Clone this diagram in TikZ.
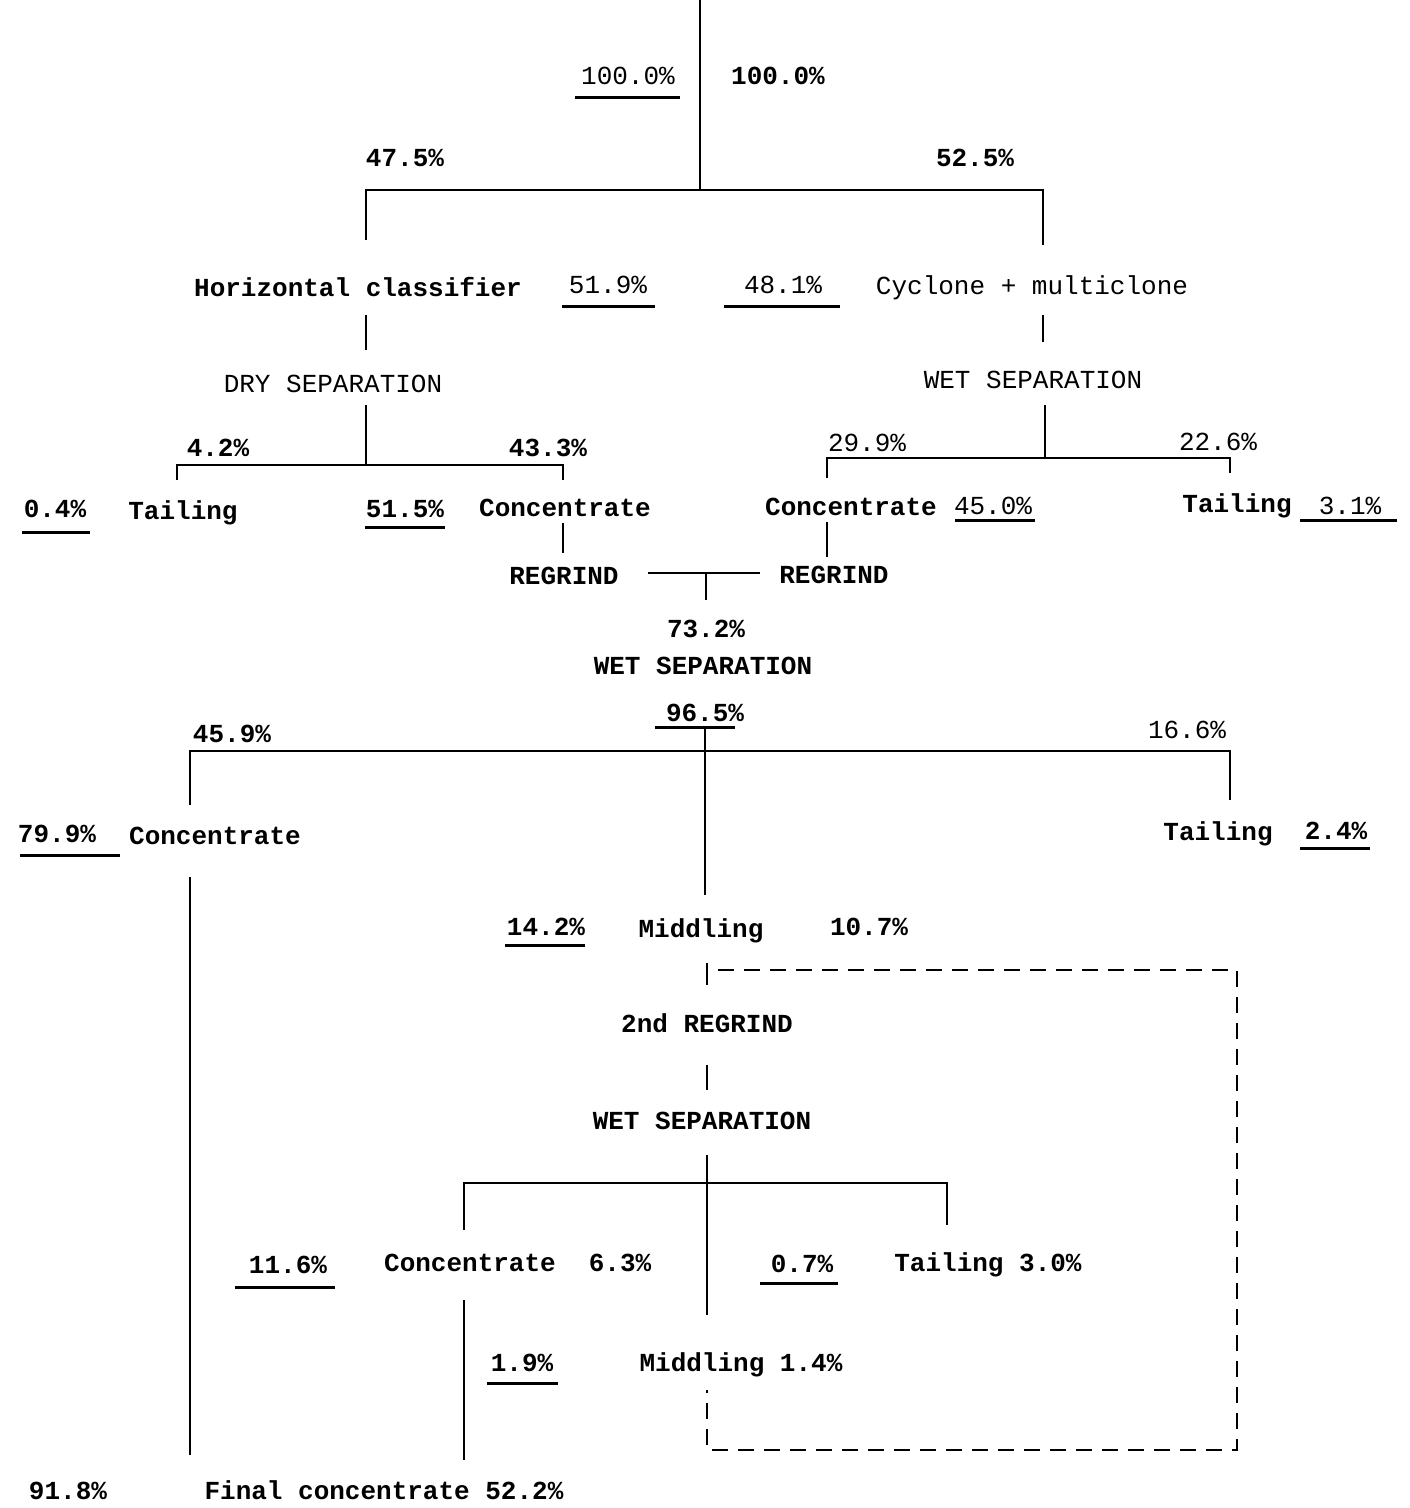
\documentclass[tikz,border=0pt]{standalone}
\usepackage{fontspec}
\setmonofont{Liberation Mono}
\begin{document}
\begin{tikzpicture}[x=1pt,y=-1pt,
  txt/.style={font=\ttfamily\bfseries\fontsize{26}{30}\selectfont, inner sep=0pt, anchor=base},
  ltxt/.style={font=\ttfamily\fontsize{26}{30}\selectfont, inner sep=0pt, anchor=base},
  flow/.style={line width=2.8pt},
  uline/.style={line width=3pt},
  recycle/.style={line width=2.6pt, dash pattern=on 16pt off 10pt}]
\useasboundingbox[fill=white] (0,0) rectangle (1409,1508);
% ---- text nodes ----
\node[ltxt] (p100a) at (628,84) {100.0\%};
\node[txt]  (p100b) at (778,84) {100.0\%};
\node[txt]  (p475) at (405,166) {47.5\%};
\node[txt]  (p525) at (975,166) {52.5\%};
\node[txt]  (hc) at (358,296) {Horizontal classifier};
\node[ltxt] (p519) at (608,293) {51.9\%};
\node[ltxt] (p481) at (783,293) {48.1\%};
\node[ltxt] (cyc) at (1032,294) {Cyclone + multiclone};
\node[ltxt] (dry) at (333,392) {DRY SEPARATION};
\node[ltxt] (wet1) at (1033,388) {WET SEPARATION};
\node[txt]  (p42) at (218,456) {4.2\%};
\node[txt]  (p433) at (548,456) {43.3\%};
\node[txt]  (p04) at (55,517) {0.4\%};
\node[txt]  (tail1) at (183,519) {Tailing};
\node[txt]  (p515) at (405,517) {51.5\%};
\node[txt]  (conc1) at (565,516) {Concentrate};
\node[ltxt] (p299) at (867,451) {29.9\%};
\node[ltxt] (p226) at (1218,450) {22.6\%};
\node[txt]  (conc2) at (851,515) {Concentrate};
\node[ltxt] (p450) at (993,514) {45.0\%};
\node[txt]  (tail2) at (1237,512) {Tailing};
\node[ltxt] (p31) at (1350,514) {3.1\%};
\node[txt]  (rg1) at (564,584) {REGRIND};
\node[txt]  (rg2) at (834,583) {REGRIND};
\node[txt]  (p732) at (706,637) {73.2\%};
\node[txt]  (wet2) at (703,674) {WET SEPARATION};
\node[txt]  (p965) at (705,721) {96.5\%};
\node[txt]  (p459) at (232,742) {45.9\%};
\node[ltxt] (p166) at (1187,738) {16.6\%};
\node[txt]  (p799) at (57,842) {79.9\%};
\node[txt]  (conc3) at (215,844) {Concentrate};
\node[txt]  (tail3) at (1218,840) {Tailing};
\node[txt]  (p24) at (1336,839) {2.4\%};
\node[txt]  (p142) at (546,935) {14.2\%};
\node[txt]  (mid1) at (701,937) {Middling};
\node[txt]  (p107) at (869,935) {10.7\%};
\node[txt]  (rg3) at (707,1032) {2nd REGRIND};
\node[txt]  (wet3) at (702,1129) {WET SEPARATION};
\node[txt]  (p116) at (288,1273) {11.6\%};
\node[txt]  (conc4) at (470,1271) {Concentrate};
\node[txt]  (p63) at (620,1271) {6.3\%};
\node[txt]  (p07) at (802,1272) {0.7\%};
\node[txt]  (tail4) at (988,1271) {Tailing 3.0\%};
\node[txt]  (p19) at (522,1371) {1.9\%};
\node[txt]  (mid2) at (741,1371) {Middling 1.4\%};
\node[txt]  (p918) at (68,1499) {91.8\%};
\node[txt]  (fin) at (384,1499) {Final concentrate 52.2\%};
% ---- underlines ----
\draw[uline] (575,97) -- (680,97);
\draw[uline] (562,306) -- (655,306);
\draw[uline] (724,306) -- (840,306);
\draw[uline] (22,532) -- (90,532);
\draw[uline] (365,527) -- (445,527);
\draw[uline] (955,520) -- (1035,520);
\draw[uline] (1300,520) -- (1397,520);
\draw[uline] (655,727) -- (735,727);
\draw[uline] (20,855) -- (120,855);
\draw[uline] (1300,848) -- (1370,848);
\draw[uline] (505,945) -- (585,945);
\draw[uline] (235,1287) -- (335,1287);
\draw[uline] (760,1283) -- (838,1283);
\draw[uline] (487,1383) -- (558,1383);
% ---- junction coordinates ----
\coordinate (feed) at (700,0);
\coordinate (s1) at (700,190);
\coordinate (s1l) at (366,190);
\coordinate (s1r) at (1043,190);
\coordinate (hcin) at (366,240);
\coordinate (cycin) at (1043,245);
\coordinate (hcout) at (366,315);
\coordinate (dryin) at (366,350);
\coordinate (cycout) at (1043,315);
\coordinate (wet1in) at (1043,342);
\coordinate (dryout) at (366,405);
\coordinate (s2) at (366,465);
\coordinate (s2l) at (177,465);
\coordinate (s2r) at (563,465);
\coordinate (t1in) at (177,480);
\coordinate (c1in) at (563,480);
\coordinate (c1out) at (563,523);
\coordinate (rg1in) at (563,553);
\coordinate (wet1out) at (1045,405);
\coordinate (s3) at (1045,458);
\coordinate (s3l) at (827,458);
\coordinate (s3r) at (1230,458);
\coordinate (c2in) at (827,478);
\coordinate (t2in) at (1230,473);
\coordinate (c2out) at (827,522);
\coordinate (rg2in) at (827,557);
\coordinate (rgl) at (648,573);
\coordinate (rgr) at (760,573);
\coordinate (rgm) at (706,573);
\coordinate (rgmout) at (706,600);
\coordinate (wet2out) at (705,727);
\coordinate (s4) at (705,751);
\coordinate (s4l) at (190,751);
\coordinate (s4r) at (1230,751);
\coordinate (c3in) at (190,805);
\coordinate (t3in) at (1230,800);
\coordinate (m1in) at (705,895);
\coordinate (c3out) at (190,877);
\coordinate (finl) at (190,1455);
\coordinate (m1out) at (707,963);
\coordinate (rg3in) at (707,985);
\coordinate (rc1) at (718,970);
\coordinate (rc2) at (1232,970);
\coordinate (rc2b) at (1237,975);
\coordinate (rc3) at (1237,1450);
\coordinate (rc4) at (707,1450);
\coordinate (rc5) at (707,1390);
\coordinate (rg3out) at (707,1065);
\coordinate (wet3in) at (707,1090);
\coordinate (wet3out) at (707,1155);
\coordinate (s5) at (707,1183);
\coordinate (s5l) at (464,1183);
\coordinate (s5r) at (947,1183);
\coordinate (c4in) at (464,1230);
\coordinate (t4in) at (947,1225);
\coordinate (m2in) at (707,1315);
\coordinate (c4out) at (464,1300);
\coordinate (finr) at (464,1460);
% ---- flow lines ----
\draw[flow] (feed) -- (s1);
\draw[flow] (hcin) -- (s1l) -- (s1r) -- (cycin);
\draw[flow] (hcout) -- (dryin);
\draw[flow] (cycout) -- (wet1in);
\draw[flow] (dryout) -- (s2);
\draw[flow] (t1in) -- (s2l) -- (s2r) -- (c1in);
\draw[flow] (c1out) -- (rg1in);
\draw[flow] (wet1out) -- (s3);
\draw[flow] (c2in) -- (s3l) -- (s3r) -- (t2in);
\draw[flow] (c2out) -- (rg2in);
\draw[flow] (rgl) -- (rgr);
\draw[flow] (rgm) -- (rgmout);
\draw[flow] (wet2out) -- (m1in);
\draw[flow] (c3in) -- (s4l) -- (s4r) -- (t3in);
\draw[flow] (c3out) -- (finl);
\draw[flow] (m1out) -- (rg3in);
\draw[recycle] (rc1) -- (rc2) -- (rc2b |- rc2) -- (rc3) -- (rc4) -- (rc5);
\draw[flow] (rg3out) -- (wet3in);
\draw[flow] (wet3out) -- (m2in);
\draw[flow] (c4in) -- (s5l) -- (s5r) -- (t4in);
\draw[flow] (c4out) -- (finr);
\end{tikzpicture}
\end{document}
